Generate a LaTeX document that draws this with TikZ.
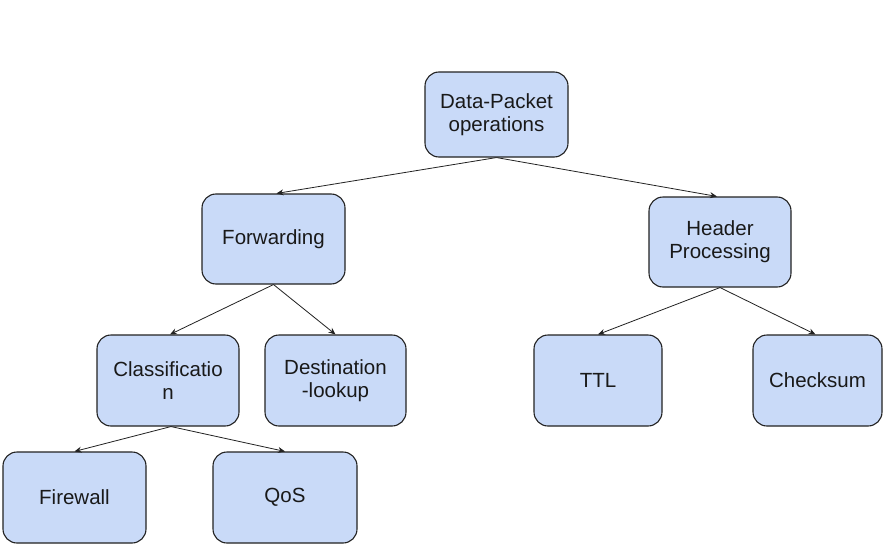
\documentclass[tikz,border=0pt]{standalone}
\usepackage{fontspec}
\setmainfont{Liberation Sans}
\usetikzlibrary{arrows.meta}
\definecolor{boxfill}{HTML}{C9DAF8}
\definecolor{boxline}{HTML}{222222}
\tikzset{
  box/.style={draw=boxline, line width=1.1pt, fill=boxfill, rounded corners=14pt,
    inner sep=0pt, align=center, font=\fontsize{20.5}{23}\selectfont, text=black!90},
  conn/.style={draw=boxline, line width=0.8pt, -{Stealth[length=7pt,width=6pt]}}
}
\begin{document}
\begin{tikzpicture}[x=1pt,y=-1pt]
\fill[white] (0,0) rectangle (888,551);
\useasboundingbox (0,0) rectangle (888,551);
\node[box, minimum width=143pt, minimum height=85pt] (dp) at (496.5,114.5) {Data-Packet\\operations};
\node[box, minimum width=143pt, minimum height=90pt] (fwd) at (273.5,239) {Forwarding};
\node[box, minimum width=142pt, minimum height=90pt] (hp) at (720,242) {Header\\Processing};
\node[box, minimum width=142pt, minimum height=91pt] (cls) at (168,380.5) {Classificatio\\n};
\node[box, minimum width=141pt, minimum height=91pt] (dst) at (335.5,380.5) {Destination\\-lookup};
\node[box, minimum width=128pt, minimum height=91pt] (ttl) at (598,380.5) {TTL};
\node[box, minimum width=129pt, minimum height=91pt] (chk) at (817.5,380.5) {Checksum};
\node[box, minimum width=143pt, minimum height=91pt] (fw) at (74.5,497.5) {Firewall};
\node[box, minimum width=144pt, minimum height=91pt] (qos) at (285,497.5) {QoS};
\draw[conn] (dp.south) -- ([xshift=3pt]fwd.north);
\draw[conn] (dp.south) -- ([xshift=-3pt]hp.north);
\draw[conn] (fwd.south) -- ([xshift=2pt]cls.north);
\draw[conn] (fwd.south) -- (dst.north);
\draw[conn] (hp.south) -- (ttl.north);
\draw[conn] (hp.south) -- ([xshift=-2pt]chk.north);
\draw[conn] ([xshift=3pt]cls.south) -- (fw.north);
\draw[conn] ([xshift=3pt]cls.south) -- (qos.north);
\end{tikzpicture}
\end{document}
